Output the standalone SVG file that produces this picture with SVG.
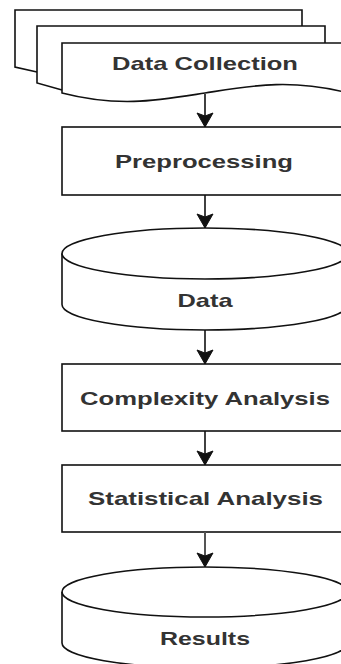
<svg xmlns="http://www.w3.org/2000/svg" width="341" height="664" viewBox="0 0 341 664">
<defs>
<style>
.shape{fill:#fff;stroke:#111;stroke-width:1.6}
.edge{fill:none;stroke:#111;stroke-width:1.6}
.nofill{fill:none;stroke:#111;stroke-width:1.6}
.fillonly{fill:#fff;stroke:none}
.lbl{font-family:"Liberation Sans",Arial,sans-serif;font-size:18.5px;font-weight:bold;fill:#333;text-anchor:middle}
</style>
<marker id="arr" viewBox="-1 -10 17 20" markerUnits="userSpaceOnUse" markerWidth="17" markerHeight="20" refX="14" refY="0" orient="auto">
<path d="M0,-8 L14,0 L0,8 L3,0 Z" fill="#111" stroke="#111" stroke-width="1"/>
</marker>
</defs>
<rect width="341" height="664" fill="#fff"/>

<g id="data-collection">
<path class="fillonly" d="M15,10 H302 V60 L37,72 L15,67 Z"/>
<path class="nofill" d="M37,72 L15,67 V10 H302 V26"/>
<path class="fillonly" d="M37,26 H325 V70 L62,90 L37,83 Z"/>
<path class="nofill" d="M62,90 L37,83 V26 H325 V43"/>
<path class="shape" d="M62,93 V43 H348 V93 C290,78 250,86 205,93 C160,100 120,108 62,93 Z"/>
<text class="lbl" x="205" y="70" textLength="186" lengthAdjust="spacingAndGlyphs">Data Collection</text>
</g>

<g id="preprocessing">
<rect class="shape" x="62" y="127" width="286" height="68"/>
<text class="lbl" x="204" y="168" textLength="178" lengthAdjust="spacingAndGlyphs">Preprocessing</text>
</g>

<g id="data">
<path class="shape" d="M62,253.5 A143,25.5 0 0 1 348,253.5 V304.5 A143,25.5 0 0 1 62,304.5 Z"/>
<path class="nofill" d="M62,253.5 A143,25.5 0 0 0 348,253.5"/>
<text class="lbl" x="205" y="307" textLength="55" lengthAdjust="spacingAndGlyphs">Data</text>
</g>

<g id="complexity-analysis">
<rect class="shape" x="62" y="364" width="286" height="67"/>
<text class="lbl" x="205" y="405" textLength="250" lengthAdjust="spacingAndGlyphs">Complexity Analysis</text>
</g>

<g id="statistical-analysis">
<rect class="shape" x="62" y="465" width="286" height="67"/>
<text class="lbl" x="205.5" y="505" textLength="235" lengthAdjust="spacingAndGlyphs">Statistical Analysis</text>
</g>

<g id="results">
<path class="shape" d="M62,592 A143,25 0 0 1 348,592 V643 A143,25 0 0 1 62,643 Z"/>
<path class="nofill" d="M62,592 A143,25 0 0 0 348,592"/>
<text class="lbl" x="205" y="645" textLength="90" lengthAdjust="spacingAndGlyphs">Results</text>
</g>

<g id="connectors">
<line class="edge" x1="205" y1="94" x2="205" y2="127" marker-end="url(#arr)"/>
<line class="edge" x1="205" y1="195" x2="205" y2="228" marker-end="url(#arr)"/>
<line class="edge" x1="205" y1="330" x2="205" y2="364" marker-end="url(#arr)"/>
<line class="edge" x1="205" y1="431" x2="205" y2="465" marker-end="url(#arr)"/>
<line class="edge" x1="205" y1="532" x2="205" y2="567" marker-end="url(#arr)" style="stroke:#555;stroke-width:2"/>
</g>
</svg>
